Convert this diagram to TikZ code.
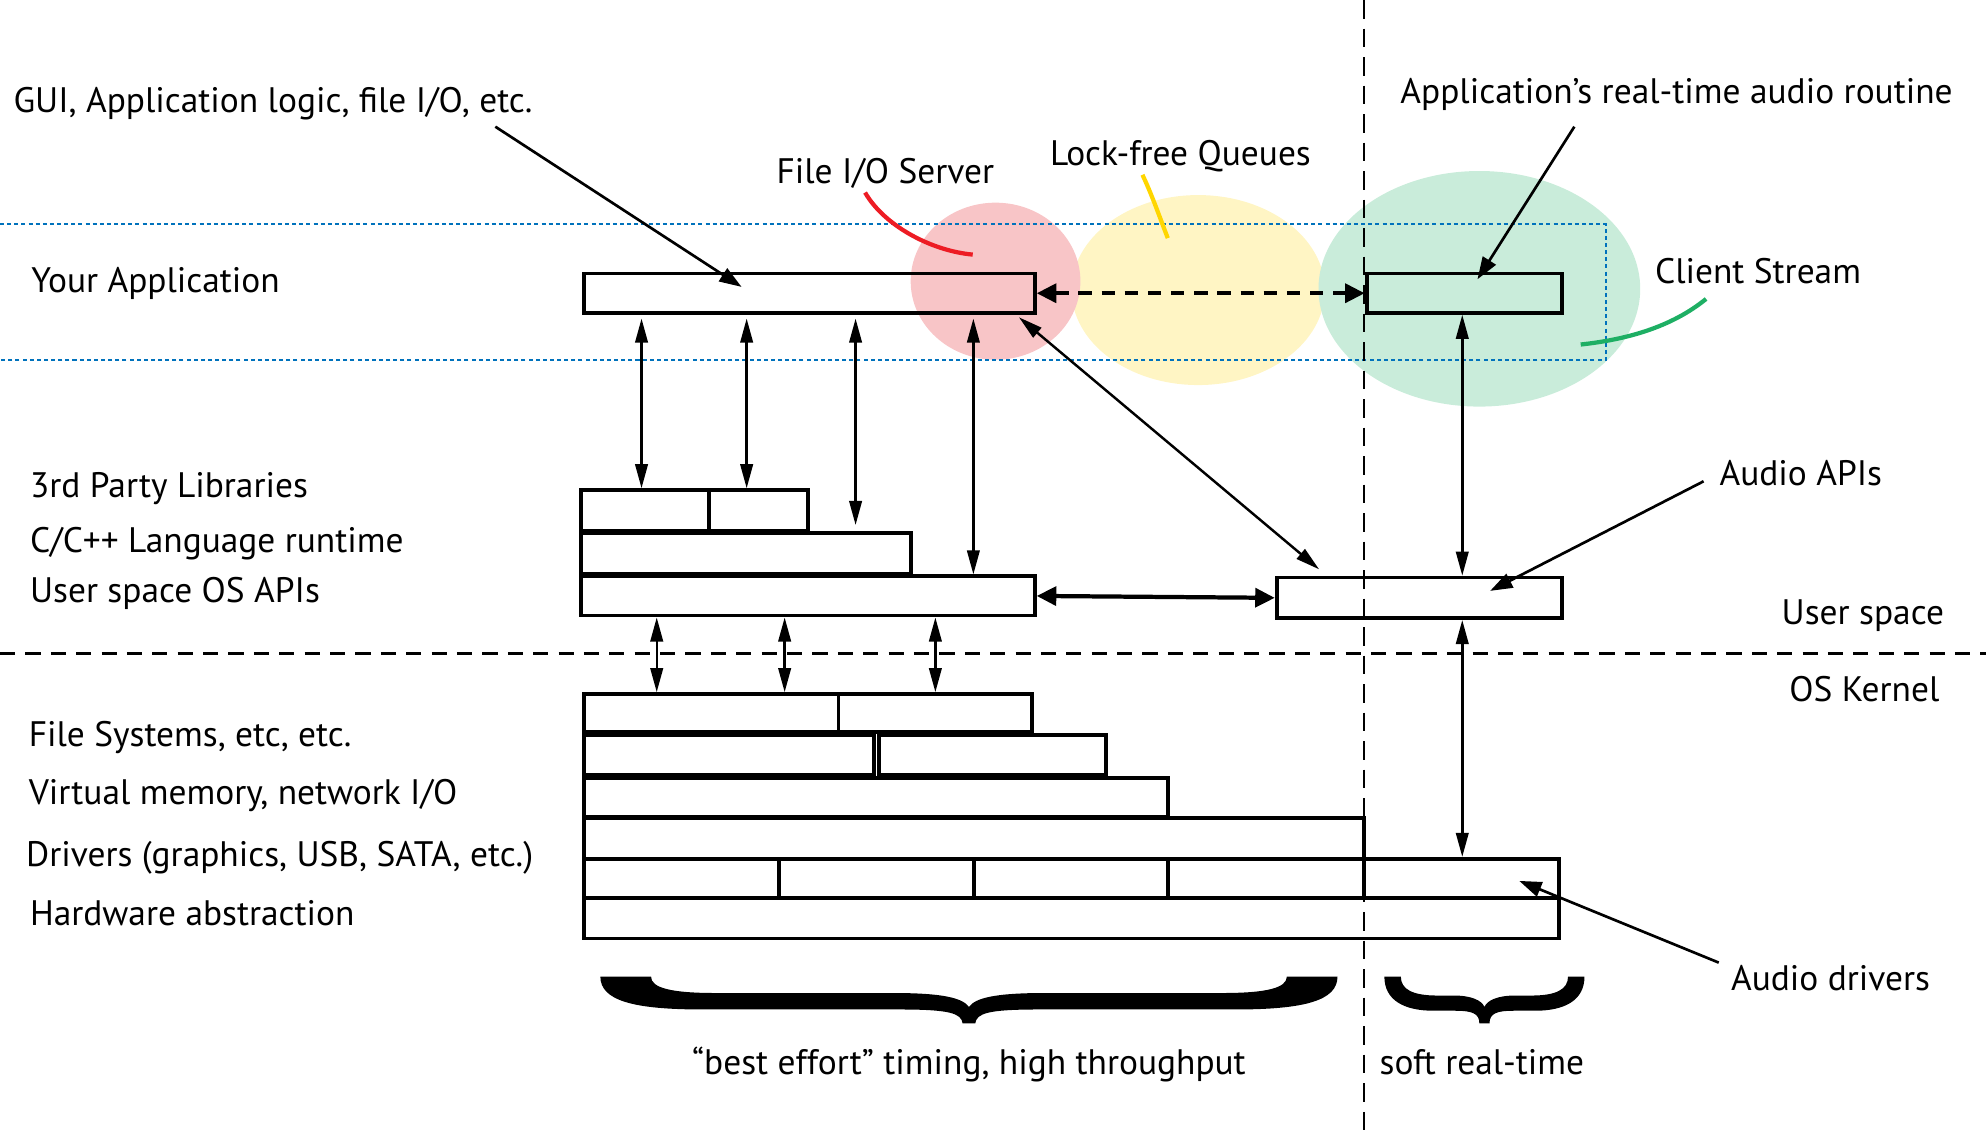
\documentclass[tikz,border=0pt]{standalone}
\usepackage{fontspec}
\setmainfont{PT Sans}
\usetikzlibrary{arrows.meta,fit,calc}

\definecolor{ioRed}{RGB}{248,197,199}
\definecolor{qYellow}{RGB}{255,245,196}
\definecolor{csGreen}{RGB}{201,236,218}
\definecolor{lnRed}{RGB}{237,28,36}
\definecolor{lnYellow}{RGB}{255,214,0}
\definecolor{lnGreen}{RGB}{30,175,100}
\definecolor{appBlue}{RGB}{0,114,188}

\tikzset{
  lbl/.style={inner sep=0pt, font=\fontsize{7.95}{9.5}\selectfont},
  blk/.style={draw, line width=0.85pt, inner sep=0pt},
  dbl/.style={line width=0.55pt, {Triangle[length=5.4pt,width=2.8pt]}-{Triangle[length=5.4pt,width=2.8pt]}},
  fatdbl/.style={line width=0.95pt, {Triangle[length=4.4pt,width=4.2pt]}-{Triangle[length=4.4pt,width=4.2pt]}},
  pointer/.style={line width=0.6pt, -{Triangle[length=5pt,width=3.4pt]}},
  leader/.style={line width=0.95pt},
}

\begin{document}
\begin{tikzpicture}[x=0.01cm,y=-0.01cm]
\useasboundingbox (0,0) rectangle (1568,896);

% highlight ellipses behind the application layer
\fill[qYellow] (946,229) ellipse [x radius=100, y radius=75];
\fill[ioRed] (786,222) ellipse [x radius=67, y radius=62];
\fill[csGreen] (1168,228) ellipse [x radius=127, y radius=93];

% application band (dotted)
\draw[appBlue, line width=0.45pt, dash pattern=on 0.9pt off 0.7pt]
  (0,177) -- (1268,177) -- (1268,284) -- (0,284);

% domain separators
\draw[line width=0.5pt, dash pattern=on 4.2pt off 2.2pt] (1077,0) -- (1077,896);
\draw[line width=0.7pt, dash pattern=on 3.4pt off 2.3pt] (0,516) -- (1568,516);

% user-space blocks
\node[blk, fit={(461,216) (817,247)}] (app) {};
\node[blk, fit={(1079,216) (1233,247)}] (client) {};
\node[blk, fit={(459,387) (560,419)}] (tpa) {};
\node[blk, fit={(560,387) (638,419)}] (tpb) {};
\node[blk, fit={(459,421) (719,453)}] (crt) {};
\node[blk, fit={(459,455) (817,486)}] (osapi) {};
\node[blk, fit={(1008,456) (1233,488)}] (audioapi) {};

% kernel blocks
\node[blk, fit={(461,548) (662,578)}] (fsa) {};
\node[blk, fit={(662,548) (815,578)}] (fsb) {};
\node[blk, fit={(461,580) (690,612)}] (vma) {};
\node[blk, fit={(694,580) (873,612)}] (vmb) {};
\node[blk, fit={(461,614) (922,645)}] (vm) {};
\node[blk, fit={(461,646) (1077,678)}] (drv) {};
\node[blk, fit={(461,678) (615,709)}] (dra) {};
\node[blk, fit={(615,678) (769,709)}] (drb) {};
\node[blk, fit={(769,678) (922,709)}] (drc) {};
\node[blk, fit={(922,678) (1077,709)}] (drd) {};
\node[blk, fit={(1077,678) (1231,709)}] (audiodrv) {};
\node[blk, fit={(461,709) (1231,741)}] (hal) {};

% left-hand labels
\node[lbl, anchor=base west] (gui) at (10,89) {GUI, Application logic, file I/O, etc.};
\node[lbl, anchor=base west] (yourapp) at (24,231) {Your Application};
\node[lbl, anchor=base west] (tplib) at (23,393) {3rd Party Libraries};
\node[lbl, anchor=base west] (cpplib) at (23,436) {C/C++ Language runtime};
\node[lbl, anchor=base west] (usosapi) at (23,476) {User space OS APIs};
\node[lbl, anchor=base west] (fslbl) at (22,589) {File Systems, etc, etc.};
\node[lbl, anchor=base west] (vmlbl) at (22,635) {Virtual memory, network I/O};
\node[lbl, anchor=base west] (drvlbl) at (20,684) {Drivers (graphics, USB, SATA, etc.)};
\node[lbl, anchor=base west] (hallbl) at (23,731) {Hardware abstraction};

% top and right-hand labels
\node[lbl, anchor=base] (fiosrv) at (699,145) {File I/O Server};
\node[lbl, anchor=base] (lfq) at (932,131) {Lock-free Queues};
\node[lbl, anchor=base west] (rtroutine) at (1105,82) {Application’s real-time audio routine};
\node[lbl, anchor=base west] (cslbl) at (1306,224) {Client Stream};
\node[lbl, anchor=base west] (aapilbl) at (1357,383) {Audio APIs};
\node[lbl, anchor=base west] (uslbl) at (1406,493) {User space};
\node[lbl, anchor=base west] (oskl) at (1412,554) {OS Kernel};
\node[lbl, anchor=base west] (adrvlbl) at (1366,782) {Audio drivers};
\node[lbl, anchor=base] (besteffort) at (765,848) {“best effort” timing, high throughput};
\node[lbl, anchor=base] (softrt) at (1170,848) {soft real-time};

% coloured leaders to the highlighted regions
\draw[leader, lnRed] ($(fiosrv.base)+(-16,7)$) .. controls (698,178) and (735,198) .. (768,201);
\draw[leader, lnYellow] ($(lfq.base)+(-30,7)$) .. controls (910,155) and (915,170) .. (922,188);
\draw[leader, lnGreen] ($(cslbl.base west)+(41,12)$) .. controls (1320,258) and (1285,268) .. (1248,272);

% pointer arrows from labels
\draw[pointer] ($(gui.base east)+(-30,11)$) -- ($(app.north west)+(126,12)$);
\draw[pointer] ($(rtroutine.base west)+(138,18)$) -- ($(client.north west)+(89,6)$);
\draw[pointer] ($(aapilbl.base west)+(-12,-3)$) -- ($(audioapi.north west)+(170,12)$);
\draw[pointer] ($(adrvlbl.base west)+(-9,-22)$) -- ($(audiodrv.north west)+(124,19)$);

% application to libraries and OS APIs
\draw[dbl] ($(app.south west)+(47,3)$) -- ($(tpa.north west)+(49,0)$);
\draw[dbl] ($(app.south west)+(130,3)$) -- ($(tpb.north west)+(31,0)$);
\draw[dbl] ($(app.south west)+(216,3)$) -- ($(crt.north west)+(218,-5)$);
\draw[dbl] ($(app.south west)+(309,3)$) -- ($(osapi.north west)+(311,0)$);
\draw[dbl] ($(app.south east)+(-14,2)$) -- ($(audioapi.north west)+(35,-5)$);

% queues and audio paths
\draw[fatdbl, dash pattern=on 3pt off 2.2pt] (app.east) -- (client.west);
\draw[fatdbl] (osapi.east) -- (audioapi.west);
\draw[dbl] ($(client.south west)+(77,0)$) -- ($(audioapi.north west)+(148,0)$);
\draw[dbl] ($(audioapi.south west)+(148,0)$) -- ($(audiodrv.north west)+(79,0)$);

% user space to kernel
\draw[dbl] ($(osapi.south west)+(61,0)$) -- ($(fsa.north west)+(59,0)$);
\draw[dbl] ($(osapi.south west)+(162,0)$) -- ($(fsa.north west)+(160,0)$);
\draw[dbl] ($(osapi.south west)+(281,0)$) -- ($(fsb.north west)+(78,0)$);

% braces under the two timing domains
\fill (474,771) -- (514,771)
  .. controls (514,780) and (530,784) .. (565,784)
  -- (705,784)
  .. controls (745,784) and (760,788) .. (765,795)
  .. controls (770,788) and (785,784) .. (825,784)
  -- (965,784)
  .. controls (1000,784) and (1016,780) .. (1016,771)
  -- (1056,771)
  .. controls (1056,790) and (1030,797) .. (975,797)
  -- (820,797)
  .. controls (780,797) and (771,800) .. (770,808)
  -- (760,808)
  .. controls (759,800) and (750,797) .. (710,797)
  -- (555,797)
  .. controls (500,797) and (474,790) .. (474,771) -- cycle;
\fill (1093,771) -- (1106,771)
  .. controls (1106,781) and (1115,786) .. (1135,786)
  -- (1148,786)
  .. controls (1162,786) and (1170,790) .. (1172,795)
  .. controls (1174,790) and (1182,786) .. (1196,786)
  -- (1209,786)
  .. controls (1229,786) and (1238,781) .. (1238,771)
  -- (1251,771)
  .. controls (1251,790) and (1235,798) .. (1212,798)
  -- (1195,798)
  .. controls (1182,798) and (1176,800) .. (1176,808)
  -- (1168,808)
  .. controls (1168,800) and (1162,798) .. (1149,798)
  -- (1132,798)
  .. controls (1109,798) and (1093,790) .. (1093,771) -- cycle;
\end{tikzpicture}
\end{document}
